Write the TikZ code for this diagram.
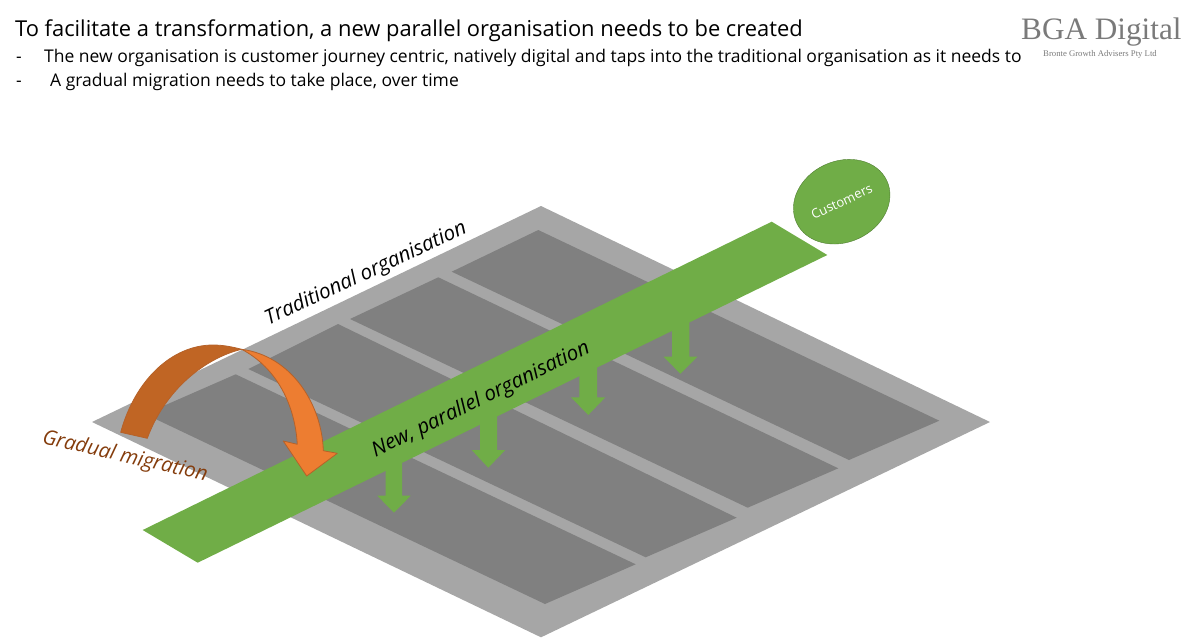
\documentclass[tikz,border=0pt]{standalone}
\usepackage{fontspec}
\usetikzlibrary{shapes.geometric}
\setmainfont{Open Sans}
\newfontfamily\logofont{Liberation Serif}
\tikzset{
  heading/.style={anchor=base west, inner sep=0pt, font=\fontsize{21.9}{26}\selectfont},
  bullet/.style={anchor=base west, inner sep=0pt, font=\fontsize{17.5}{20}\selectfont},
  slanted/.style={inner sep=0pt, font=\fontsize{20.6}{24}\selectfont\itshape},
  plinth/.style={fill=black!35},
  block/.style={fill=black!50},
  journey/.style={fill=journeygreen},
  migration/.style={draw=bendline, line width=.8pt, line join=round}
}
\definecolor{journeygreen}{HTML}{70AD47}
\definecolor{journeyline}{HTML}{507E32}
\definecolor{bendfront}{HTML}{ED7D31}
\definecolor{bendback}{HTML}{C06524}
\definecolor{bendline}{HTML}{B5622A}
\definecolor{bendtext}{HTML}{843C0C}
\definecolor{logogrey}{HTML}{7A7A7A}
\begin{document}
\begin{tikzpicture}[x=1pt, y=-1pt]
      \useasboundingbox (0, 0) rectangle (1200, 638);

      % header
      \node[heading] (title) at (15, 36.7) {To facilitate a transformation, a new parallel organisation needs to be created};
      \node[bullet] (dash1) at (16, 62.3) {-};
      \node[bullet] (line1) at (44, 62.3) {The new organisation is customer journey centric, natively digital and taps into the traditional organisation as it needs to};
      \node[bullet] (dash2) at (16, 86.7) {-};
      \node[bullet] (line2) at (50, 86.7) {A gradual migration needs to take place, over time};

      % logo
      \node[anchor=base west, inner sep=0pt, text=logogrey, font=\logofont\fontsize{31.2}{34}\selectfont] (logo) at (1021, 39) {BGA Digital};
      \node[anchor=base west, inner sep=0pt, text=logogrey, font=\logofont\fontsize{8.7}{10}\selectfont] (logosub) at (1043, 56.7) {Bronte Growth Advisers Pty Ltd};

      % traditional organisation
      \fill[plinth] (541, 206) -- (990, 422) -- (541, 637.3) -- (92, 422) -- cycle;
      \fill[block] (538.3, 230) -- (939.3, 420.7) -- (849, 460) -- (451.7, 271.7) -- cycle;
      \fill[block] (438.3, 277.3) -- (838.3, 468.3) -- (747.7, 507.7) -- (350, 319) -- cycle;
      \fill[block] (338, 324) -- (736.7, 517.7) -- (645.7, 557.3) -- (248.3, 369) -- cycle;
      \fill[block] (235.7, 374.3) -- (635.7, 564.3) -- (545, 604) -- (145, 414) -- cycle;

      % arrows from the band
      \fill[journey] (385.7, 450) -- (402, 450) -- (402, 495.7) -- (410.7, 495.7) -- (394, 512.7) -- (377.3, 495.7) -- (385.7, 495.7) -- cycle;
      \fill[journey] (480, 400) -- (497, 400) -- (497, 450) -- (505.3, 450) -- (488.3, 467.7) -- (471.7, 450) -- (480, 450) -- cycle;
      \fill[journey] (579.3, 350) -- (597, 350) -- (597, 397.3) -- (605.3, 397.3) -- (588.3, 415) -- (571, 397.3) -- (579.3, 397.3) -- cycle;
      \fill[journey] (672, 300) -- (689.3, 300) -- (689.3, 356.7) -- (697.3, 356.7) -- (680.3, 373.7) -- (663.7, 356.7) -- (672, 356.7) -- cycle;

      % new organisation
      \fill[journey] (142.7, 530) -- (197.7, 562.7) -- (827.3, 255) -- (771.7, 221.7) -- cycle;
      \node[draw=journeyline, fill=journeygreen, ellipse, minimum width=99.6pt, minimum height=81pt, inner sep=0pt, rotate=25, text=white, font=\fontsize{13}{15}\selectfont] (customers) at (841.7, 201.7) {Customers};

      % migration
      \draw[migration, fill=bendback] (120.7, 432.3) .. controls (135, 380) and (172, 345) .. (213, 345) .. controls (223, 345) and (232, 346.8) .. (241.7, 349.3) .. controls (205, 358) and (165, 390) .. (147.3, 438.3) -- cycle;
      \draw[migration, fill=bendfront] (241.7, 349.3) .. controls (292, 356) and (322, 405) .. (323.3, 450.7) -- (337.3, 453.3) -- (306.7, 476) -- (283.3, 441) -- (297.3, 444.3) .. controls (295, 405) and (277, 368) .. (241.7, 349.3) -- cycle;

      % labels
      \node[slanted, rotate=25] (traditional) at (366, 274) {Traditional organisation};
      \node[slanted, rotate=26] (parallel) at (481, 400) {New, parallel organisation};
      \node[slanted, rotate=-13, text=bendtext] (gradual) at (125, 457) {Gradual migration};
\end{tikzpicture}
\end{document}
